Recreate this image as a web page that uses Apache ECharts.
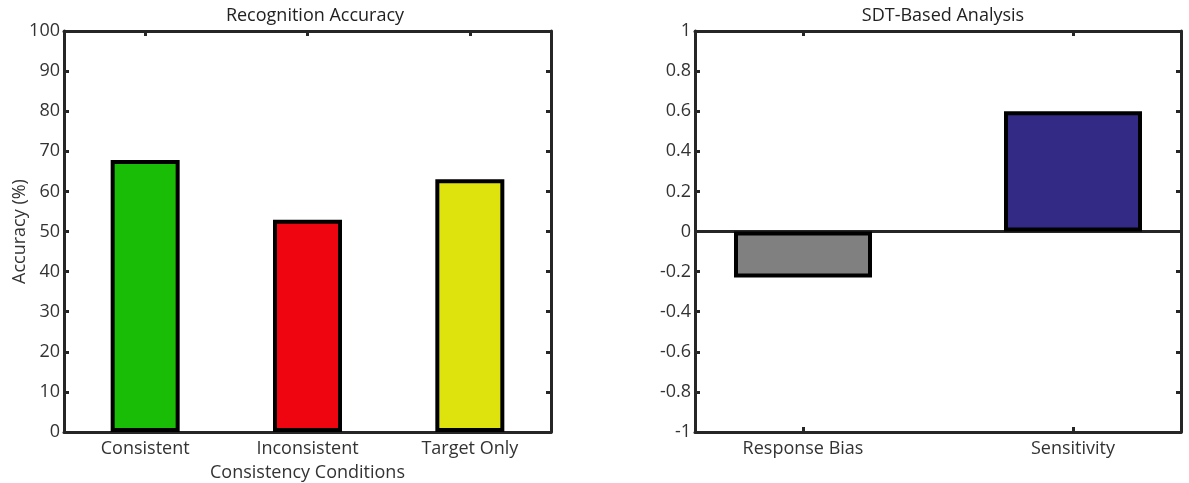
<!DOCTYPE html>
<html>
<head>
<meta charset="utf-8">
<title>Recognition Accuracy and SDT-Based Analysis</title>
<script src="https://cdn.jsdelivr.net/npm/echarts@6/dist/echarts.min.js"></script>
<style>
  html, body { margin: 0; padding: 0; background: #ffffff; }
  #chart { width: 1189px; height: 483px; }
</style>
</head>
<body>
<div id="chart"></div>
<script>
// Left panel: recognition accuracy per consistency condition
const accuracyCategories = ['Consistent', 'Inconsistent', 'Target Only'];
const accuracyValues = [67.8, 52.9, 63.0];
const accuracyColors = ['#1abd05', '#ee0510', '#dfe30d'];

// Right panel: signal detection measures
const sdtCategories = ['Response Bias', 'Sensitivity'];
const sdtValues = [-0.23, 0.60];
const sdtColors = ['#808080', '#332a85'];

const FONT = 'Open Sans';
const TEXT = '#333333';
const LINE = '#262626';
const FS = 18;

const chart = echarts.init(document.getElementById('chart'), null, { renderer: 'canvas' });

// Axis drawn as one side of the boxed frame, with inward ticks
function frameAxis(extra) {
  return Object.assign({
    axisLine: { show: true, onZero: false, lineStyle: { color: LINE, width: 3 } },
    axisTick: { show: true, inside: true, length: 5, lineStyle: { color: LINE, width: 3 } },
    splitLine: { show: false },
    axisLabel: { show: false }
  }, extra);
}

function catTicks(pos) {
  return { show: true, inside: true, length: 5, customValues: pos, lineStyle: { color: LINE, width: 3 } };
}

const accPos = accuracyCategories.map((_, i) => i + 1);
const sdtPos = sdtCategories.map((_, i) => i + 1);
const fmt1 = v => String(Number(v.toFixed(1)));
const labelStyle = { fontSize: FS, color: TEXT, fontFamily: FONT };

chart.setOption({
  animation: false,
  textStyle: { fontFamily: FONT, color: TEXT },
  title: [
    { text: 'Recognition Accuracy', left: 310, top: 2, textAlign: 'center',
      textStyle: { fontFamily: FONT, fontSize: FS, fontWeight: 'normal', color: '#222' } },
    { text: 'SDT-Based Analysis', left: 938, top: 2, textAlign: 'center',
      textStyle: { fontFamily: FONT, fontSize: FS, fontWeight: 'normal', color: '#222' } }
  ],
  grid: [
    { left: 64, top: 31, width: 487, height: 401, outerBoundsMode: 'none' },
    { left: 695, top: 31, width: 486, height: 401, outerBoundsMode: 'none' }
  ],
  xAxis: [
    frameAxis({
      type: 'value', gridIndex: 0, position: 'bottom', min: 0.5, max: 3.5,
      axisTick: catTicks(accPos),
      axisLabel: Object.assign({ show: true, customValues: accPos, margin: 8,
        formatter: v => accuracyCategories[Math.round(v) - 1] }, labelStyle),
      name: 'Consistency Conditions', nameLocation: 'middle', nameGap: 32,
      nameMoveOverlap: false,
      nameTextStyle: labelStyle
    }),
    frameAxis({
      type: 'value', gridIndex: 0, position: 'top', min: 0.5, max: 3.5,
      axisTick: catTicks(accPos)
    }),
    frameAxis({
      type: 'value', gridIndex: 1, position: 'bottom', min: 0.6, max: 2.4,
      axisTick: catTicks(sdtPos),
      axisLabel: Object.assign({ show: true, customValues: sdtPos, margin: 8,
        formatter: v => sdtCategories[Math.round(v) - 1] }, labelStyle)
    }),
    frameAxis({
      type: 'value', gridIndex: 1, position: 'top', min: 0.6, max: 2.4,
      axisTick: catTicks(sdtPos)
    })
  ],
  yAxis: [
    frameAxis({
      type: 'value', gridIndex: 0, position: 'left', min: 0, max: 100, interval: 10,
      axisLabel: Object.assign({ show: true, margin: 4 }, labelStyle),
      name: 'Accuracy (%)', nameLocation: 'middle', nameGap: 35, nameRotate: 90,
      nameMoveOverlap: false,
      nameTextStyle: labelStyle
    }),
    frameAxis({ type: 'value', gridIndex: 0, position: 'right', min: 0, max: 100, interval: 10 }),
    frameAxis({
      type: 'value', gridIndex: 1, position: 'left', min: -1, max: 1, interval: 0.2,
      axisLabel: Object.assign({ show: true, margin: 4, formatter: fmt1 }, labelStyle)
    }),
    frameAxis({ type: 'value', gridIndex: 1, position: 'right', min: -1, max: 1, interval: 0.2 })
  ],
  series: [
    {
      type: 'bar', xAxisIndex: 0, yAxisIndex: 0, barWidth: 69,
      data: accuracyValues.map((v, i) => ({
        value: [accPos[i], v],
        itemStyle: { color: accuracyColors[i], borderColor: '#000', borderWidth: 4 }
      }))
    },
    {
      type: 'bar', xAxisIndex: 2, yAxisIndex: 2, barWidth: 138,
      data: sdtValues.map((v, i) => ({
        value: [sdtPos[i], v],
        itemStyle: { color: sdtColors[i], borderColor: '#000', borderWidth: 4 }
      })),
      markLine: {
        silent: true, symbol: 'none', label: { show: false }, z: 1,
        lineStyle: { color: LINE, width: 3, type: 'solid' },
        data: [{ yAxis: 0 }]
      }
    }
  ]
});
</script>
</body>
</html>
